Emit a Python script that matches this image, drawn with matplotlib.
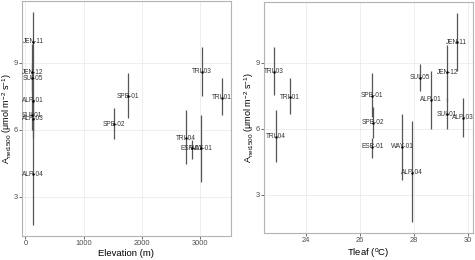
import matplotlib
matplotlib.use("Agg")
import matplotlib.pyplot as plt

plt.rcParams['font.family'] = ['Liberation Sans', 'DejaVu Sans']
plt.rcParams['mathtext.fontset'] = 'custom'
plt.rcParams['mathtext.rm'] = 'Liberation Sans'
plt.rcParams['mathtext.it'] = 'Liberation Sans'

sites = ["JEN-11", "JEN-12", "SUI-05", "ALP-01", "SUI-01", "ALP-03", "ALP-04",
         "SPB-01", "SPB-02", "TRI-03", "TRI-01", "TRI-04", "ESP-01", "WAY-01"]
elevation = [130, 120, 120, 125, 110, 130, 130,
             1760, 1530, 3040, 3380, 2760, 2860, 3030]
tleaf = [29.59, 29.25, 28.23, 28.64, 29.22, 29.84, 27.93,
         26.44, 26.48, 22.80, 23.38, 22.88, 26.46, 27.57]
anet = [9.92, 8.56, 8.30, 7.30, 6.65, 6.50, 4.00,
        7.49, 6.25, 8.58, 7.43, 5.62, 5.16, 5.16]
anet_lo = [8.63, 7.27, 7.69, 6.00, 5.98, 5.63, 1.73,
           6.52, 5.58, 7.51, 6.64, 4.47, 4.67, 3.67]
anet_hi = [11.26, 9.81, 8.94, 8.63, 7.40, 7.37, 6.33,
           8.54, 6.98, 9.70, 8.30, 6.86, 5.56, 6.66]

W, H = 475, 260
fig = plt.figure(figsize=(W / 100, H / 100), dpi=100)
ax1 = fig.add_axes([22 / W, (H - 236) / H, (231 - 22) / W, (236 - 1) / H])
ax2 = fig.add_axes([264 / W, (H - 233) / H, (473 - 264) / W, (233 - 2) / H])

ylab = r'A$_{\mathrm{net1500}}$ ($\mathrm{\mu}$mol m$^{-2}$ s$^{-1}$)'


def draw(ax, xs, xlabel, xlim, xticks, ylab_x):
    lo = [a - l for a, l in zip(anet, anet_lo)]
    hi = [h - a for a, h in zip(anet, anet_hi)]
    ax.errorbar(xs, anet, yerr=[lo, hi], fmt='none', ecolor='#555555',
                elinewidth=0.9, capsize=0, zorder=2)
    for x, y, s in zip(xs, anet, sites):
        ax.text(x, y, s, ha='center', va='center', fontsize=4.7,
                color='#333333', zorder=3)
    ax.scatter(xs, anet, s=3, color='black', zorder=4, linewidths=0)
    ax.set_xlim(*xlim)
    ax.set_ylim(1.25, 11.75)
    ax.set_xticks(xticks)
    ax.set_yticks([3, 6, 9])
    ax.grid(True, color='#ebebeb', linewidth=0.6)
    ax.set_axisbelow(True)
    for sp in ax.spines.values():
        sp.set_color('#b3b3b3')
        sp.set_linewidth(0.8)
    ax.tick_params(axis='both', labelsize=5.4, colors='#333333',
                   labelcolor='#4d4d4d', length=2, width=0.5, pad=1.2)
    ax.set_xlabel(xlabel, fontsize=6.8, labelpad=1)
    ax.set_ylabel(ylab, fontsize=6.5)
    ax.yaxis.set_label_coords(ylab_x, 0.5)


draw(ax1, elevation, 'Elevation (m)', (-60, 3540), [0, 1000, 2000, 3000],
     (14 - 22) / 209)
draw(ax2, tleaf, r'Tleaf ($^{\mathrm{o}}$C)', (22.43, 30.2), [24, 26, 28, 30],
     (255.5 - 264) / 209)

fig.savefig('out.png', dpi=100)
